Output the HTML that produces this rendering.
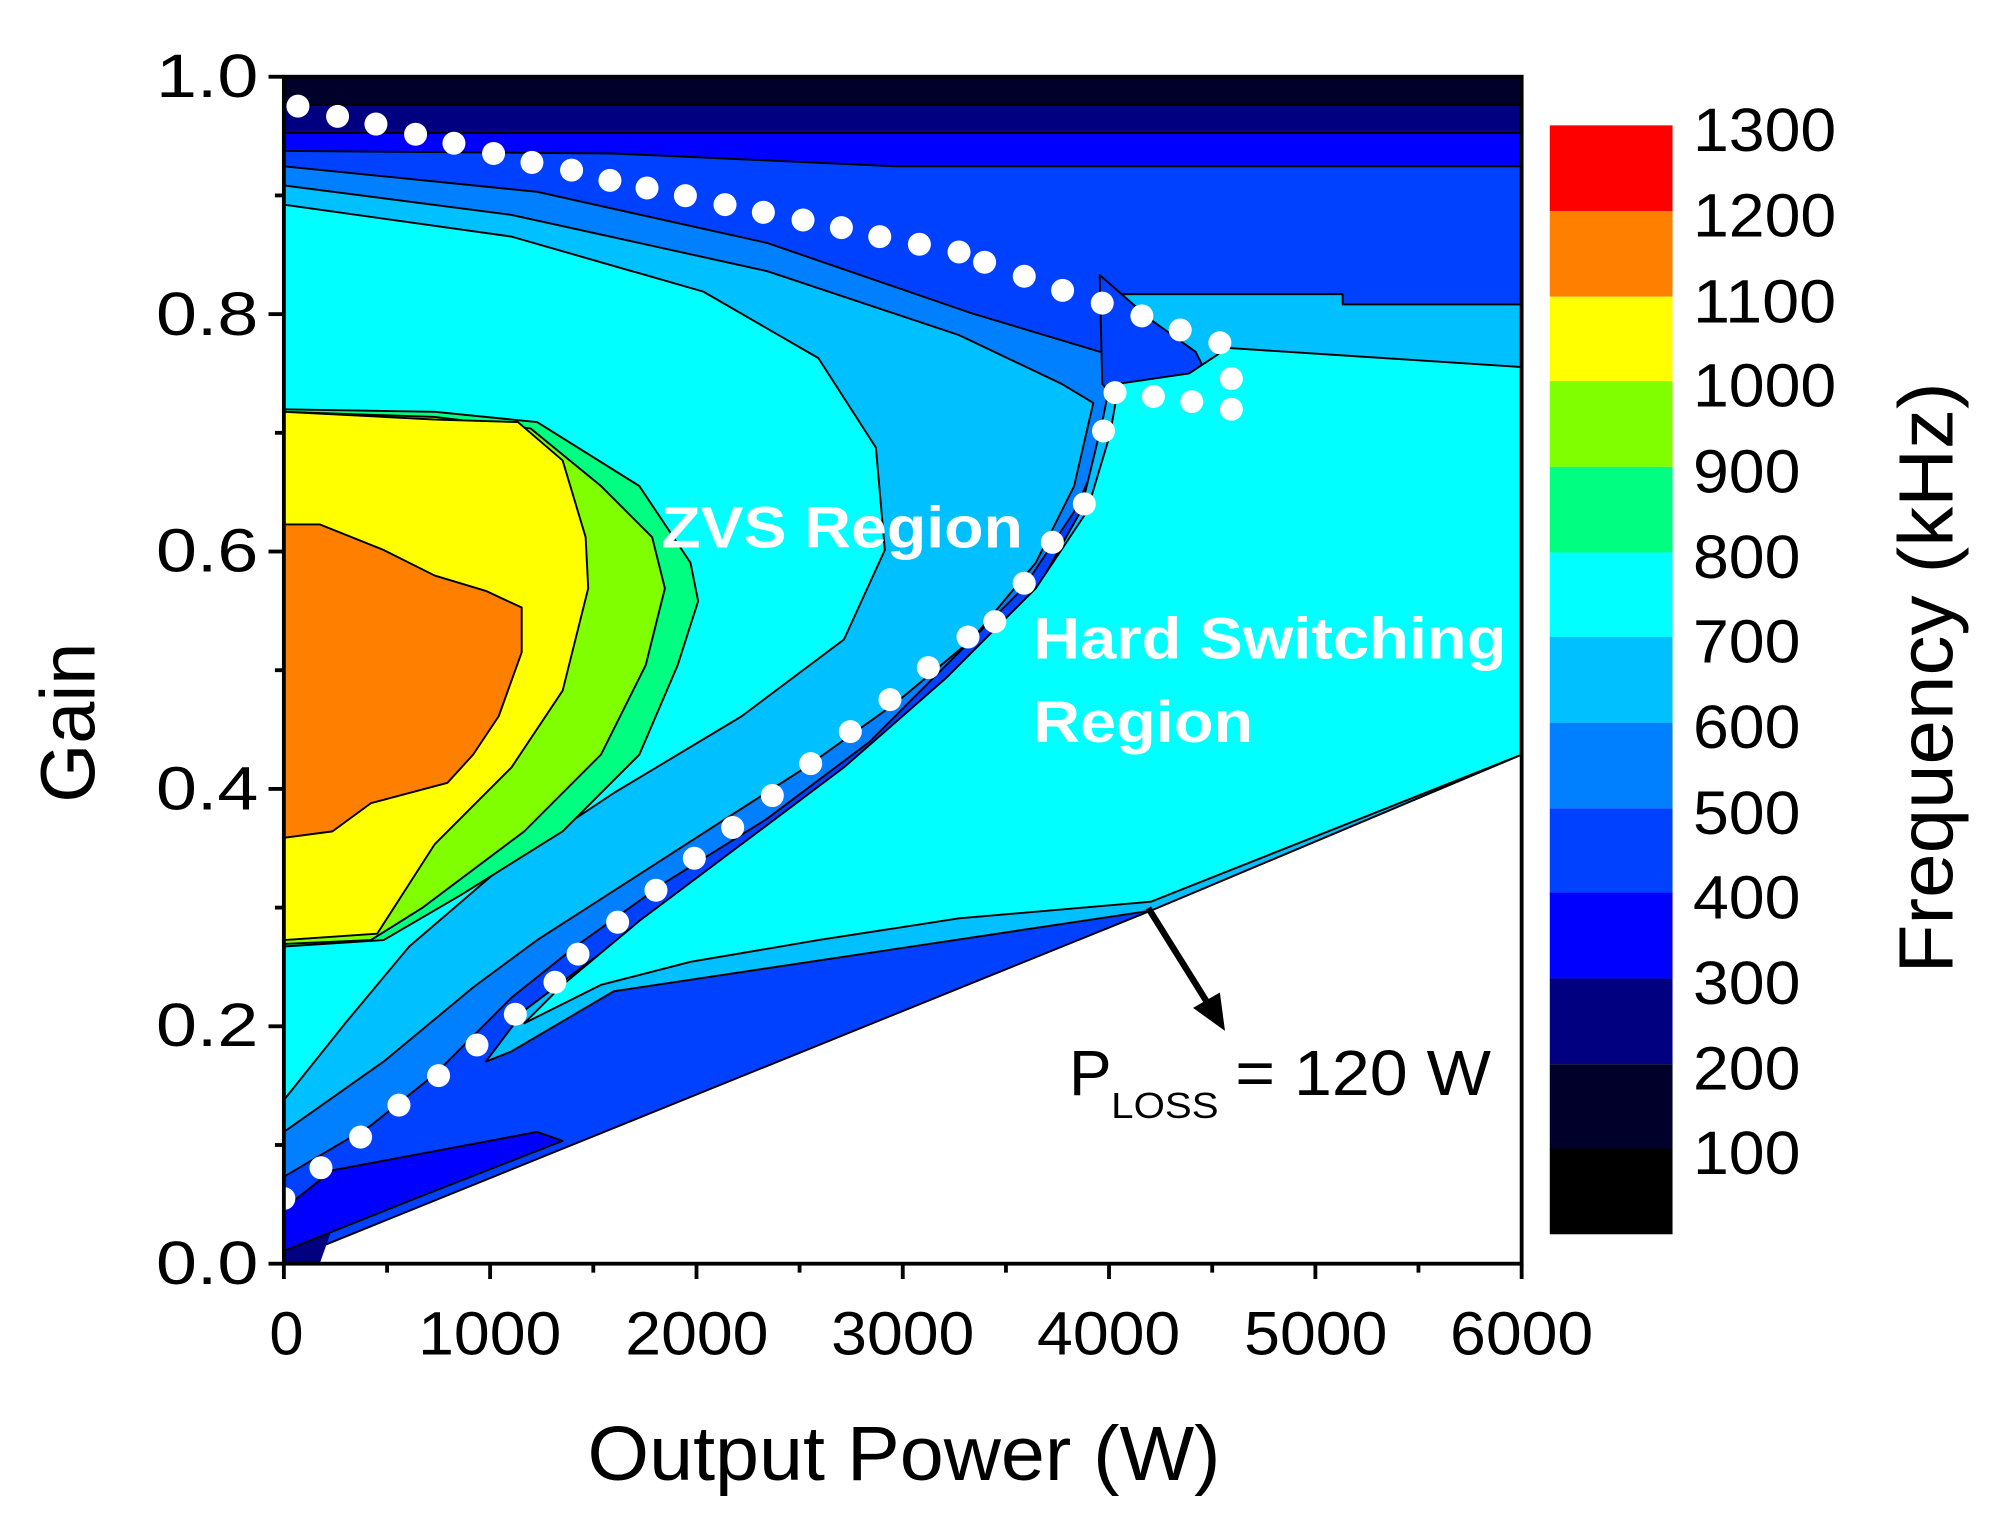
<!DOCTYPE html>
<html><head><meta charset="utf-8"><style>html,body{margin:0;padding:0;background:#fff}svg{display:block}</style></head>
<body>
<svg width="2005" height="1531" viewBox="0 0 1568 1197" preserveAspectRatio="none" xmlns="http://www.w3.org/2000/svg" font-family="Liberation Sans, Arial, sans-serif">
<defs><clipPath id="pc"><rect x="222" y="60" width="968" height="928"/></clipPath></defs>
<rect width="1568" height="1197" fill="#fff"/>
<g clip-path="url(#pc)" stroke="#000" stroke-width="1.5" stroke-linejoin="round">
<polygon fill="#0040ff" points="222,60 1190,60 1190,590 900,712 250,975 222,988"/>
<polygon fill="#000080" stroke="none" points="222,940 250,930 260,960 250,988 222,988"/>
<rect x="222" y="60" width="968" height="22" fill="#00002a"/>
<rect x="222" y="82" width="968" height="22" fill="#000080"/>
<polygon fill="#0000ff" points="222,104 1190,104 1190,130 700,130 480,120 222,118"/>
<polygon fill="#0000ff" points="222,945 260,915 420,885 440,892 330,935 222,978"/>
<polygon fill="#0080ff" points="222,130 420,150 600,190 760,245 860,275 940,300 870,310 865,345 840,400 800,460 740,520 680,580 600,640 520,690 450,740 400,780 340,840 290,880 222,920"/>
<polygon fill="#00c0ff" points="222,145 400,168 600,212 750,262 830,300 855,315 840,380 810,440 760,500 700,550 630,600 560,645 490,690 420,735 370,772 300,830 222,885"/>
<polygon fill="#00c0ff" points="870,230 1050,230 1050,238 1190,238 1190,590 900,712 480,775 400,822 380,830 410,790 470,745 550,690 640,630 730,560 800,480 845,400 862,330 868,300"/>
<polygon fill="#0040ff" points="860,215 900,250 935,275 950,305 870,310 862,300"/>
<polygon fill="#00ffff" points="222,160 400,185 550,228 640,280 685,350 692,430 660,500 580,560 480,620 390,680 320,740 270,800 222,860"/>
<polygon fill="#00ffff" points="960,272 1190,287 1190,590 900,705 750,718 640,735 540,752 470,770 410,800 440,770 500,720 580,660 660,600 740,530 810,460 850,400 868,340 875,300 930,292"/>
<polygon fill="#00ff80" points="222,320 340,322 420,330 500,380 540,440 546,470 530,520 500,590 440,650 360,700 300,735 222,740"/>
<polygon fill="#80ff00" points="222,322 340,326 415,335 470,380 510,420 520,460 505,520 470,590 410,650 330,710 290,735 222,738"/>
<polygon fill="#ffff00" points="222,322 340,328 405,330 440,360 458,420 460,460 440,540 400,600 340,660 295,730 222,735"/>
<polygon fill="#ff8000" points="222,410 250,410 300,430 340,450 380,462 408,475 408,510 390,560 370,590 350,612 290,628 260,650 222,655"/>
</g>
<g fill="#fff">
<circle cx="233" cy="83" r="9"/><circle cx="264" cy="91" r="9"/><circle cx="294" cy="97" r="9"/><circle cx="325" cy="105" r="9"/><circle cx="355" cy="112" r="9"/><circle cx="386" cy="120" r="9"/><circle cx="416" cy="127" r="9"/><circle cx="447" cy="133" r="9"/><circle cx="477" cy="141" r="9"/><circle cx="506" cy="147" r="9"/><circle cx="536" cy="153" r="9"/><circle cx="567" cy="160" r="9"/><circle cx="597" cy="166" r="9"/><circle cx="628" cy="172" r="9"/><circle cx="658" cy="178" r="9"/><circle cx="688" cy="185" r="9"/><circle cx="719" cy="191" r="9"/><circle cx="750" cy="197" r="9"/><circle cx="770" cy="205" r="9"/><circle cx="801" cy="216" r="9"/><circle cx="831" cy="227" r="9"/><circle cx="862" cy="237" r="9"/><circle cx="893" cy="247" r="9"/><circle cx="923" cy="258" r="9"/><circle cx="954" cy="268" r="9"/><circle cx="963" cy="296" r="9"/><circle cx="963" cy="320" r="9"/><circle cx="932" cy="314" r="9"/><circle cx="902" cy="310" r="9"/><circle cx="872" cy="307" r="9"/><circle cx="863" cy="337" r="9"/><circle cx="848" cy="394" r="9"/><circle cx="823" cy="424" r="9"/><circle cx="801" cy="456" r="9"/><circle cx="778" cy="486" r="9"/><circle cx="757" cy="498" r="9"/><circle cx="726" cy="522" r="9"/><circle cx="696" cy="547" r="9"/><circle cx="665" cy="572" r="9"/><circle cx="634" cy="597" r="9"/><circle cx="604" cy="622" r="9"/><circle cx="573" cy="647" r="9"/><circle cx="543" cy="671" r="9"/><circle cx="513" cy="696" r="9"/><circle cx="483" cy="721" r="9"/><circle cx="452" cy="746" r="9"/><circle cx="434" cy="768" r="9"/><circle cx="403" cy="793" r="9"/><circle cx="373" cy="817" r="9"/><circle cx="343" cy="841" r="9"/><circle cx="312" cy="864" r="9"/><circle cx="282" cy="889" r="9"/><circle cx="251" cy="913" r="9"/><circle cx="222" cy="937" r="9"/>
</g>
<rect x="222" y="60" width="968" height="928" fill="none" stroke="#000" stroke-width="3"/>
<g stroke="#000" stroke-width="3">
<line x1="210" y1="60" x2="222" y2="60"/><line x1="210" y1="245.6" x2="222" y2="245.6"/><line x1="210" y1="431.2" x2="222" y2="431.2"/><line x1="210" y1="616.8" x2="222" y2="616.8"/><line x1="210" y1="802.4" x2="222" y2="802.4"/><line x1="210" y1="988" x2="222" y2="988"/>
<line x1="215" y1="152.8" x2="222" y2="152.8"/><line x1="215" y1="338.4" x2="222" y2="338.4"/><line x1="215" y1="524" x2="222" y2="524"/><line x1="215" y1="709.6" x2="222" y2="709.6"/><line x1="215" y1="895.2" x2="222" y2="895.2"/>
<line x1="222" y1="988" x2="222" y2="1000"/><line x1="383.3" y1="988" x2="383.3" y2="1000"/><line x1="544.7" y1="988" x2="544.7" y2="1000"/><line x1="706" y1="988" x2="706" y2="1000"/><line x1="867.3" y1="988" x2="867.3" y2="1000"/><line x1="1028.7" y1="988" x2="1028.7" y2="1000"/><line x1="1190" y1="988" x2="1190" y2="1000"/>
<line x1="302.7" y1="988" x2="302.7" y2="995"/><line x1="464" y1="988" x2="464" y2="995"/><line x1="625.3" y1="988" x2="625.3" y2="995"/><line x1="786.7" y1="988" x2="786.7" y2="995"/><line x1="948" y1="988" x2="948" y2="995"/><line x1="1109.3" y1="988" x2="1109.3" y2="995"/>
</g>
<g font-size="48" text-anchor="end" fill="#000">
<text x="202" y="76" textLength="80" lengthAdjust="spacingAndGlyphs">1.0</text><text x="202" y="262" textLength="80" lengthAdjust="spacingAndGlyphs">0.8</text><text x="202" y="447" textLength="80" lengthAdjust="spacingAndGlyphs">0.6</text><text x="202" y="633" textLength="80" lengthAdjust="spacingAndGlyphs">0.4</text><text x="202" y="818" textLength="80" lengthAdjust="spacingAndGlyphs">0.2</text><text x="202" y="1004" textLength="80" lengthAdjust="spacingAndGlyphs">0.0</text>
</g>
<g font-size="48" text-anchor="middle" fill="#000">
<text x="224" y="1059">0</text><text x="383" y="1059" textLength="112" lengthAdjust="spacingAndGlyphs">1000</text><text x="545" y="1059" textLength="112" lengthAdjust="spacingAndGlyphs">2000</text><text x="706" y="1059" textLength="112" lengthAdjust="spacingAndGlyphs">3000</text><text x="867" y="1059" textLength="112" lengthAdjust="spacingAndGlyphs">4000</text><text x="1029" y="1059" textLength="112" lengthAdjust="spacingAndGlyphs">5000</text><text x="1190" y="1059" textLength="112" lengthAdjust="spacingAndGlyphs">6000</text>
</g>
<text x="707" y="1157" font-size="60" text-anchor="middle" textLength="495" lengthAdjust="spacingAndGlyphs">Output Power (W)</text>
<text transform="translate(74,565) rotate(-90)" font-size="60" text-anchor="middle" textLength="125" lengthAdjust="spacingAndGlyphs">Gain</text>
<text transform="translate(1527,530) rotate(-90)" font-size="60" text-anchor="middle" textLength="462" lengthAdjust="spacingAndGlyphs">Frequency (kHz)</text>
<g font-weight="bold" fill="#fff" font-size="46">
<text x="517" y="428" textLength="283" lengthAdjust="spacingAndGlyphs">ZVS Region</text><text x="808" y="515" textLength="370" lengthAdjust="spacingAndGlyphs">Hard Switching</text><text x="808" y="580" textLength="172" lengthAdjust="spacingAndGlyphs">Region</text>
</g>
<line x1="898" y1="710" x2="948" y2="790" stroke="#000" stroke-width="5"/>
<polygon points="958,806 933,788 954,776" fill="#000"/>
<text x="836" y="856" font-size="50">P</text><text x="869" y="874" font-size="28" textLength="84" lengthAdjust="spacingAndGlyphs">LOSS</text><text x="966" y="856" font-size="50" textLength="200" lengthAdjust="spacingAndGlyphs">= 120 W</text>
<g>
<rect x="1212" y="98" width="96" height="67" fill="#ff0000"/>
<rect x="1212" y="165" width="96" height="67" fill="#ff8000"/>
<rect x="1212" y="232" width="96" height="67" fill="#ffff00"/>
<rect x="1212" y="298" width="96" height="67" fill="#80ff00"/>
<rect x="1212" y="365" width="96" height="67" fill="#00ff80"/>
<rect x="1212" y="432" width="96" height="67" fill="#00ffff"/>
<rect x="1212" y="498" width="96" height="67" fill="#00c0ff"/>
<rect x="1212" y="565" width="96" height="67" fill="#0080ff"/>
<rect x="1212" y="632" width="96" height="67" fill="#0040ff"/>
<rect x="1212" y="698" width="96" height="67" fill="#0000ff"/>
<rect x="1212" y="765" width="96" height="67" fill="#000080"/>
<rect x="1212" y="832" width="96" height="67" fill="#00002a"/>
<rect x="1212" y="898" width="96" height="67" fill="#000000"/>
</g>
<g font-size="48" fill="#000">
<text x="1324" y="118" textLength="112" lengthAdjust="spacingAndGlyphs">1300</text><text x="1324" y="185" textLength="112" lengthAdjust="spacingAndGlyphs">1200</text><text x="1324" y="252" textLength="112" lengthAdjust="spacingAndGlyphs">1100</text><text x="1324" y="318" textLength="112" lengthAdjust="spacingAndGlyphs">1000</text><text x="1324" y="385" textLength="84" lengthAdjust="spacingAndGlyphs">900</text><text x="1324" y="452" textLength="84" lengthAdjust="spacingAndGlyphs">800</text><text x="1324" y="518" textLength="84" lengthAdjust="spacingAndGlyphs">700</text><text x="1324" y="585" textLength="84" lengthAdjust="spacingAndGlyphs">600</text><text x="1324" y="652" textLength="84" lengthAdjust="spacingAndGlyphs">500</text><text x="1324" y="718" textLength="84" lengthAdjust="spacingAndGlyphs">400</text><text x="1324" y="785" textLength="84" lengthAdjust="spacingAndGlyphs">300</text><text x="1324" y="852" textLength="84" lengthAdjust="spacingAndGlyphs">200</text><text x="1324" y="918" textLength="84" lengthAdjust="spacingAndGlyphs">100</text>
</g>
</svg>
</body></html>
